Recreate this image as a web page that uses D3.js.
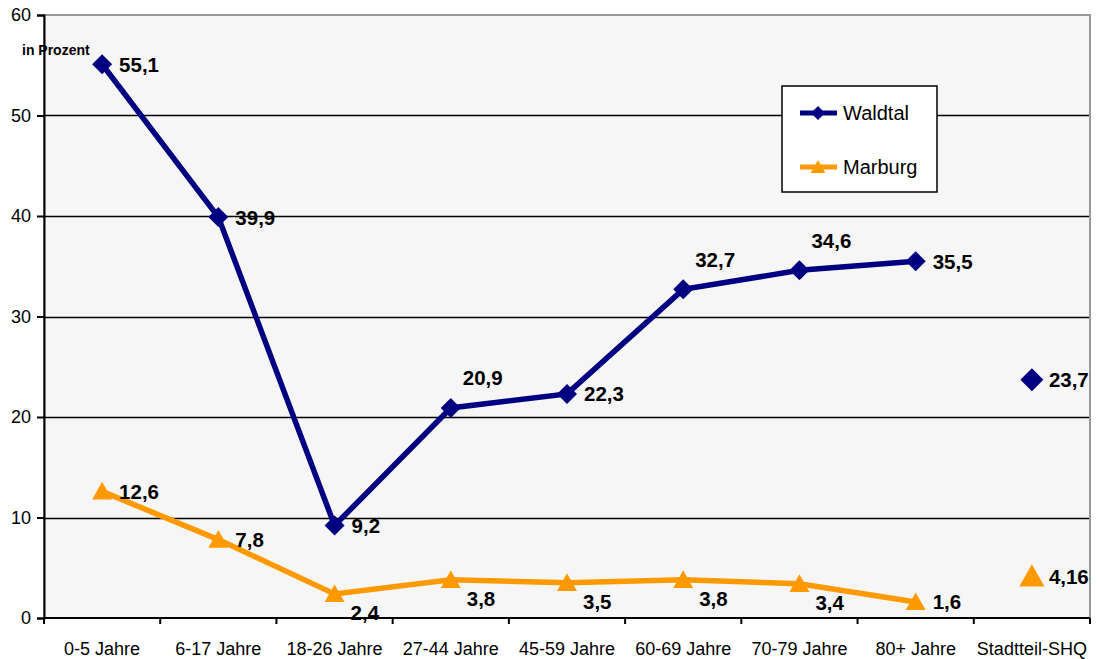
<!DOCTYPE html>
<html>
<head>
<meta charset="utf-8">
<script src="https://cdn.jsdelivr.net/npm/d3@7"></script>
<style>
  html, body { margin: 0; padding: 0; background: #fff; }
  svg { display: block; font-family: "Liberation Sans", Arial, sans-serif; }
</style>
</head>
<body>
<svg id="chart" width="1097" height="659"></svg>
<script>
// Altersgruppen und Stadtteil-Vergleich
const categories = ["0-5 Jahre", "6-17 Jahre", "18-26 Jahre", "27-44 Jahre", "45-59 Jahre",
                    "60-69 Jahre", "70-79 Jahre", "80+ Jahre", "Stadtteil-SHQ"];
const waldtal = [55.1, 39.9, 9.2, 20.9, 22.3, 32.7, 34.6, 35.5, 23.7];
const marburg = [12.6, 7.8, 2.4, 3.8, 3.5, 3.8, 3.4, 1.6, 4.16];
const waldtalLabels = ["55,1", "39,9", "9,2", "20,9", "22,3", "32,7", "34,6", "35,5", "23,7"];
const marburgLabels = ["12,6", "7,8", "2,4", "3,8", "3,5", "3,8", "3,4", "1,6", "4,16"];
const waldtalLabelPos = ["right", "right", "right", "above", "right", "above", "above", "right", "right"];
const marburgLabelPos = ["right", "right", "below", "below", "below", "below", "below", "right", "right"];
const yTicks = [0, 10, 20, 30, 40, 50, 60];
const seriesNames = ["Waldtal", "Marburg"];

(function () {
  const navy = "#000080", orange = "#ff9900";

  const svg = d3.select("#chart");
  const pLeft = 44, pRight = 1090, pTop = 15, pBottom = 618;

  const x = d3.scaleBand().domain(categories).range([pLeft, pRight]).padding(0);
  const y = d3.scaleLinear().domain([0, 60]).range([pBottom, pTop]);
  const cx = c => x(c) + x.bandwidth() / 2;

  // plot area
  svg.append("rect")
    .attr("x", pLeft).attr("y", pTop)
    .attr("width", pRight - pLeft).attr("height", pBottom - pTop)
    .attr("fill", "#f6f6f6")
    .attr("stroke", "#999").attr("stroke-width", 2);

  // gridlines
  svg.append("g").selectAll("line")
    .data(yTicks.filter(t => t > 0 && t < 60))
    .join("line")
    .attr("x1", pLeft).attr("x2", pRight - 1)
    .attr("y1", d => Math.round(y(d)) + 0.5).attr("y2", d => Math.round(y(d)) + 0.5)
    .attr("stroke", "#000").attr("stroke-width", 1.3);

  // y axis
  const yAxis = svg.append("g")
    .attr("transform", `translate(${pLeft},0)`)
    .call(d3.axisLeft(y).tickValues(yTicks).tickSize(7).tickPadding(6).tickFormat(d3.format("d")));
  yAxis.select(".domain").attr("stroke", "#000").attr("stroke-width", 2);
  yAxis.selectAll(".tick line").attr("stroke", "#000").attr("stroke-width", 2);
  yAxis.selectAll(".tick text")
    .attr("font-size", 18).attr("fill", "#000")
    .attr("font-family", "Liberation Sans, Arial, sans-serif");

  // x axis line + ticks at band edges
  svg.append("line")
    .attr("x1", pLeft).attr("x2", pRight).attr("y1", pBottom).attr("y2", pBottom)
    .attr("stroke", "#000").attr("stroke-width", 2);
  const edges = categories.map(c => x(c)).concat([pRight]);
  svg.append("g").selectAll("line").data(edges).join("line")
    .attr("x1", d => d).attr("x2", d => d)
    .attr("y1", pBottom).attr("y2", pBottom + 6)
    .attr("stroke", "#000").attr("stroke-width", 2);
  svg.append("g").selectAll("text").data(categories).join("text")
    .attr("x", d => cx(d)).attr("y", 649)
    .attr("text-anchor", "middle").attr("dominant-baseline", "central")
    .attr("font-size", 18).attr("fill", "#000")
    .text(d => d);

  // unit label
  svg.append("text")
    .attr("x", 22).attr("y", 50)
    .attr("dominant-baseline", "central")
    .attr("font-size", 14).attr("font-weight", "bold").attr("fill", "#000")
    .text("in Prozent");

  // marker shapes
  const diamond = s => `M0,${-s}L${s},0L0,${s}L${-s},0Z`;
  const triangle = s => `M0,${-s}L${s * 1.05},${s * 0.85}L${-s * 1.05},${s * 0.85}Z`;

  function drawSeries(values, color, shape, small, big) {
    const lineCats = categories.slice(0, 8);
    const line = d3.line().x(d => cx(d.c)).y(d => y(d.v));
    svg.append("path")
      .datum(lineCats.map((c, i) => ({ c, v: values[i] })))
      .attr("d", line)
      .attr("fill", "none").attr("stroke", color)
      .attr("stroke-width", 5.5).attr("stroke-linejoin", "miter");
    svg.append("g").selectAll("path")
      .data(categories.map((c, i) => ({ c, v: values[i], i })))
      .join("path")
      .attr("transform", d => `translate(${cx(d.c)},${y(d.v)})`)
      .attr("d", d => shape(d.i === 8 ? big : small))
      .attr("fill", color);
  }

  function drawLabels(values, labels, pos) {
    const off = {
      right: [17, 0],
      above: [12, -30],
      below: [16, 19]
    };
    svg.append("g").selectAll("text")
      .data(categories.map((c, i) => ({ c, v: values[i], t: labels[i], p: pos[i] })))
      .join("text")
      .attr("x", d => cx(d.c) + off[d.p][0])
      .attr("y", d => y(d.v) + off[d.p][1])
      .attr("dominant-baseline", "central")
      .attr("font-size", 20.5).attr("font-weight", "bold").attr("fill", "#000")
      .text(d => d.t);
  }

  drawSeries(marburg, orange, triangle, 9.5, 12);
  drawSeries(waldtal, navy, diamond, 10, 11.5);
  drawLabels(waldtal, waldtalLabels, waldtalLabelPos);
  drawLabels(marburg, marburgLabels, marburgLabelPos);

  // legend
  const lg = svg.append("g");
  lg.append("rect")
    .attr("x", 782).attr("y", 86).attr("width", 155).attr("height", 106)
    .attr("fill", "#fff").attr("stroke", "#000").attr("stroke-width", 1.5);
  const legendItems = [
    { name: seriesNames[0], color: navy, shape: diamond(7), yy: 113 },
    { name: seriesNames[1], color: orange, shape: triangle(7), yy: 167 }
  ];
  legendItems.forEach(d => {
    lg.append("line")
      .attr("x1", 800).attr("x2", 837).attr("y1", d.yy).attr("y2", d.yy)
      .attr("stroke", d.color).attr("stroke-width", 5);
    lg.append("path")
      .attr("transform", `translate(818,${d.yy})`)
      .attr("d", d.shape).attr("fill", d.color);
    lg.append("text")
      .attr("x", 843).attr("y", d.yy)
      .attr("dominant-baseline", "central")
      .attr("font-size", 20).attr("fill", "#000")
      .text(d.name);
  });
})();
</script>
</body>
</html>
